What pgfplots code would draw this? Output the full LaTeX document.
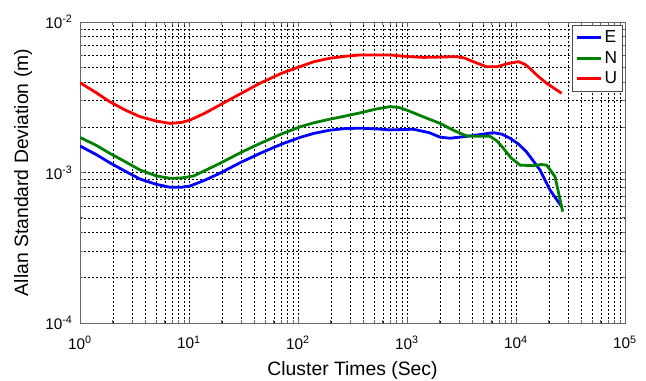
\documentclass[border=0pt]{standalone}
\usepackage{fontspec}
\setmainfont{Liberation Sans}
\usepackage{pgfplots}
\pgfplotsset{compat=1.18}
\definecolor{mblue}{rgb}{0,0,1}
\definecolor{mgreen}{rgb}{0,0.5,0}
\definecolor{mred}{rgb}{1,0,0}
\begin{document}
\begin{tikzpicture}
\path[use as bounding box] (0,0) rectangle (484.5pt,285pt);
\begin{axis}[
  at={(60pt,42.75pt)}, anchor=south west,
  scale only axis, width=408.75pt, height=225.75pt,
  xmode=log, ymode=log,
  xmin=1, xmax=1e5, ymin=1e-4, ymax=1e-2,
  xtick={1,10,100,1000,10000,100000},
  xticklabels={10\textsuperscript{0},10\textsuperscript{1},10\textsuperscript{2},10\textsuperscript{3},10\textsuperscript{4},10\textsuperscript{5}},
  ytick={1e-4,1e-3,1e-2},
  yticklabels={10\textsuperscript{-4},10\textsuperscript{-3},10\textsuperscript{-2}},
  minor xtick={2,3,4,5,6,7,8,9,20,30,40,50,60,70,80,90,200,300,400,500,600,700,800,900,2000,3000,4000,5000,6000,7000,8000,9000,20000,30000,40000,50000,60000,70000,80000,90000},
  minor ytick={2e-4,3e-4,4e-4,5e-4,6e-4,7e-4,8e-4,9e-4,2e-3,3e-3,4e-3,5e-3,6e-3,7e-3,8e-3,9e-3},
  grid=both,
  major grid style={black, line width=0.4pt, dash pattern=on 1.3pt off 1.7pt},
  minor grid style={black, line width=0.4pt, dash pattern=on 1.3pt off 1.7pt},
  axis line style={black!60, line width=0.6pt},
  tick style={black!60, line width=0.5pt},
  tick align=inside,
  major tick length=4pt, minor tick length=2.2pt,
  tick label style={font=\fontsize{11.5}{13}\selectfont},
  xticklabel style={yshift=-6pt},
  yticklabel style={xshift=-2pt},
  label style={font=\fontsize{14.5}{17}\selectfont},
  xlabel={Cluster Times (Sec)},
  ylabel={Allan Standard Deviation (m)},
  xlabel style={yshift=-2pt},
  ylabel style={yshift=3pt},
  legend style={at={(0.996,0.99)}, anchor=north east, draw=black!70, fill=white,
    font=\fontsize{13}{15}\selectfont, inner sep=2pt, row sep=1pt,
    /tikz/every even column/.append style={column sep=2pt}},
  legend cell align=left,
  legend image code/.code={\draw[#1] (0pt,0pt) -- (18pt,0pt);},
  every axis plot/.append style={line width=2.1pt, line join=round},
]
\addplot[mblue] coordinates {
(1,1.50e-3) (1.4,1.32e-3) (1.88,1.16e-3) (2.6,1.02e-3) (3.55,9.05e-4) (5,8.35e-4) (6.7,7.98e-4) (8.5,7.98e-4) (10.2,8.13e-4) (14,8.9e-4) (19.2,9.89e-4) (30,1.17e-3) (44.8,1.34e-3) (70,1.54e-3) (104,1.71e-3) (140,1.82e-3) (195,1.91e-3) (270,1.96e-3) (370,1.97e-3) (520,1.95e-3) (698,1.92e-3) (900,1.93e-3) (1140,1.94e-3) (1600,1.84e-3) (2000,1.72e-3) (2480,1.69e-3) (3790,1.75e-3) (5000,1.80e-3) (6190,1.84e-3) (7400,1.80e-3) (8810,1.69e-3) (10500,1.55e-3) (12500,1.37e-3) (16600,1.04e-3) (20500,7.66e-4) (26200,5.93e-4)
};
\addlegendentry{E}
\addplot[mgreen] coordinates {
(1,1.71e-3) (1.4,1.52e-3) (1.88,1.34e-3) (2.6,1.18e-3) (3.55,1.04e-3) (5,9.5e-4) (6.7,9.15e-4) (8.5,9.2e-4) (11,9.48e-4) (14,1.03e-3) (19.2,1.15e-3) (30,1.36e-3) (44.8,1.56e-3) (70,1.80e-3) (104,2.01e-3) (140,2.14e-3) (195,2.26e-3) (270,2.37e-3) (370,2.49e-3) (520,2.64e-3) (698,2.74e-3) (850,2.70e-3) (993,2.60e-3) (1400,2.35e-3) (2010,2.12e-3) (2700,1.90e-3) (3530,1.75e-3) (4500,1.74e-3) (5770,1.74e-3) (6700,1.62e-3) (7650,1.45e-3) (9000,1.25e-3) (10900,1.12e-3) (14400,1.11e-3) (17000,1.13e-3) (19100,1.12e-3) (22800,9.38e-4) (26800,5.5e-4)
};
\addlegendentry{N}
\addplot[mred] coordinates {
(1,3.95e-3) (1.4,3.40e-3) (1.88,2.95e-3) (2.6,2.60e-3) (3.55,2.35e-3) (5,2.20e-3) (6.7,2.12e-3) (8.5,2.15e-3) (10.2,2.23e-3) (14,2.48e-3) (19.2,2.81e-3) (30,3.35e-3) (44.8,3.92e-3) (70,4.55e-3) (104,5.05e-3) (140,5.45e-3) (195,5.74e-3) (270,5.92e-3) (370,6.04e-3) (698,6.04e-3) (1000,5.90e-3) (1412,5.82e-3) (2000,5.85e-3) (2860,5.89e-3) (3400,5.75e-3) (4060,5.45e-3) (5385,5.04e-3) (6650,5.04e-3) (8500,5.3e-3) (10500,5.45e-3) (12000,5.25e-3) (13400,4.92e-3) (16000,4.35e-3) (19100,3.92e-3) (26200,3.36e-3)
};
\addlegendentry{U}
\end{axis}
\end{tikzpicture}
\end{document}
